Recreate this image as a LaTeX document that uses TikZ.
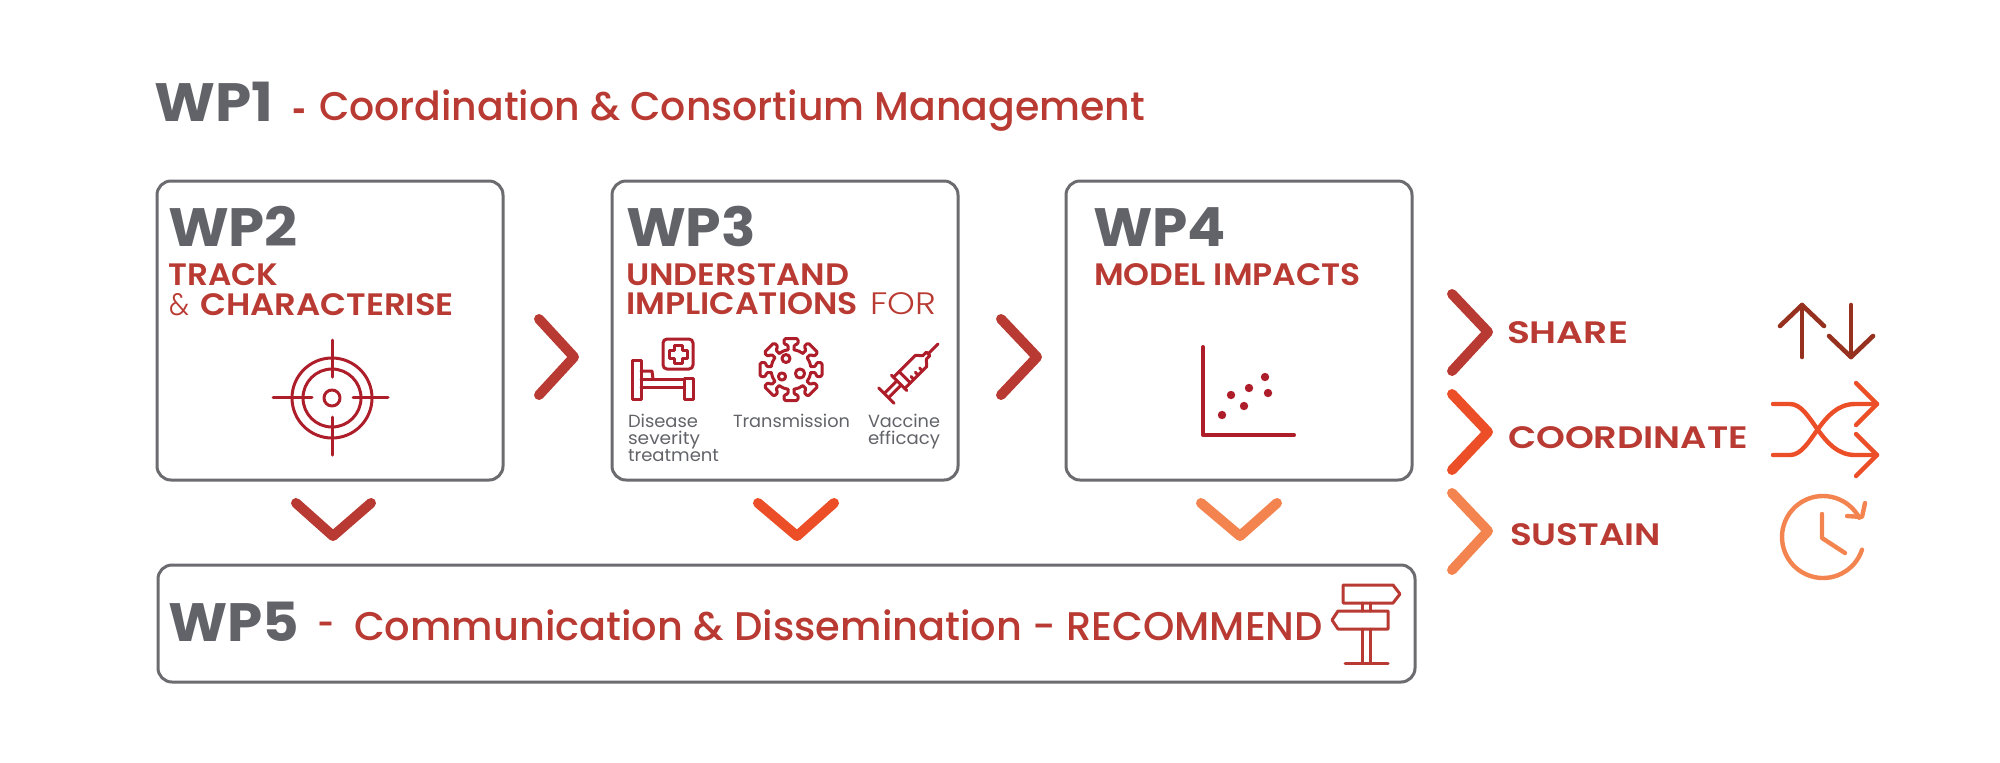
\documentclass[tikz,border=0pt]{standalone}
\usepackage{fontspec}
\usepackage{graphicx}
\setmainfont{Poppins}
\newfontfamily\popsemi{Poppins SemiBold}
\newfontfamily\popmed{Poppins Medium}
\newfontfamily\poplight{Poppins Light}
\definecolor{greyt}{HTML}{626369}
\definecolor{boxg}{HTML}{6B6B70}
\definecolor{redt}{HTML}{B93A32}
\definecolor{iconr}{HTML}{AE1E2A}
\definecolor{orange1}{HTML}{EC4E27}
\definecolor{orange2}{HTML}{F3844F}
\definecolor{brownr}{HTML}{96301F}
\tikzset{
  wpbox/.style={draw=boxg,line width=1.5pt,rounded corners=7pt,inner sep=0pt,outer sep=0pt},
  lab/.style={anchor=base west,inner sep=0pt,outer sep=0pt},
  chev/.style={line width=5pt,line cap=round,line join=round},
  ico/.style={line width=1.5pt,line cap=round,line join=round},
}
% \fw{width px}{text}: set text to an exact width in px, keeping its height
\newcommand{\fw}[2]{\resizebox{\dimexpr#1pt/2\relax}{\height}{#2}}
\newcommand{\wph}[1]{\fontsize{27}{27}\selectfont\bfseries\color{greyt}#1}
\newcommand{\subt}[1]{\fontsize{15.5}{15.5}\popsemi\color{redt}#1}
\newcommand{\subl}[1]{\fontsize{15.5}{15.5}\poplight\color{redt}#1}
\newcommand{\bigt}[1]{\fontsize{20}{20}\popmed\color{redt}#1}
\newcommand{\dasht}[1]{\fontsize{20}{20}\popsemi\color{redt}#1}
\newcommand{\smt}[1]{\fontsize{8.8}{8.8}\selectfont\color{greyt}#1}
\begin{document}
\begin{tikzpicture}[x=0.5pt,y=-0.5pt]
\useasboundingbox (0,0) rectangle (2000,762);
% title
\node[lab] (wp1) at (154,121) {\fw{119}{\wph{WP1}}};
\node[lab] (d1) at (292,125) {\fw{14}{\dasht{-}}};
\node[lab] (t1) at (319,120) {\fw{826}{\bigt{Coordination \& Consortium Management}}};
% boxes
\node[wpbox,minimum width=173pt,minimum height=149.5pt] (wp2box) at (330,330.5) {};
\node[wpbox,minimum width=173pt,minimum height=149.5pt] (wp3box) at (785,330.5) {};
\node[wpbox,minimum width=173pt,minimum height=149.5pt] (wp4box) at (1239,330.5) {};
\node[wpbox,minimum width=628.5pt,minimum height=58.5pt] (wp5box) at (786.5,623.5) {};
% WP2
\node[lab] (wp2) at (168,246) {\fw{130}{\wph{WP2}}};
\node[lab] (wp2a) at (168.5,285) {\fw{110}{\subt{TRACK}}};
\node[lab] (wp2b) at (169,315) {\fw{20}{\subl{\&}}};
\node[lab] (wp2c) at (200,315) {\fw{254}{\subt{CHARACTERISE}}};
\begin{scope}[iconr,ico]
\draw (332,398) circle (40);
\draw (332,398) circle (29);
\draw (332,398) circle (8);
\draw (332,340) -- (332,377);
\draw (332,417) -- (332,455);
\draw (273,397) -- (312,397);
\draw (353,397) -- (388,397);
\end{scope}
% WP3
\node[lab] (wp3) at (626,246) {\fw{130}{\wph{WP3}}};
\node[lab] (wp3a) at (626,285) {\fw{223}{\subt{UNDERSTAND}}};
\node[lab] (wp3b) at (626,314) {\fw{232}{\subt{IMPLICATIONS}}};
\node[lab] (wp3c) at (870,314) {\fw{66}{\subl{FOR}}};
\begin{scope}[iconr,ico]
% bed
\draw (632,360) rectangle (641,399);
\draw (641,379) -- (684,379) (641,387) -- (684,387);
\draw (684,378) rectangle (693,399);
\draw (641,371) -- (652,371) -- (653,379);
\draw[rounded corners=2pt] (663,339) rectangle (693,369);
\draw (674,345) -- (682,345) -- (682,350) -- (687,350) -- (687,358) -- (682,358) -- (682,363) -- (674,363) -- (674,358) -- (669,358) -- (669,350) -- (674,350) -- cycle;
\end{scope}
% virus
\begin{scope}[iconr,ico,shift={(791,369.5)}]
\foreach \a in {0,45,...,315}{
  \begin{scope}[rotate=\a]
  \draw[rounded corners=0.8pt] (19.7,-3) -- (25,-3) -- (25,-7) -- (31,-7) -- (31,7) -- (25,7) -- (25,3) -- (19.7,3);
  \draw (8.7:20) arc[start angle=8.7,end angle=36.3,radius=20];
  \end{scope}
}
\draw (-5,-11) circle (4);
\draw (9,4) circle (4.6);
\draw (-9,7) circle (3.6);
\end{scope}
% syringe
\begin{scope}[iconr,ico,shift={(938,344)},rotate=-135]
\draw (0,0) -- (14,0);
\draw (14,-2.5) -- (19,-2.5) -- (24,-8) (14,2.5) -- (19,2.5) -- (24,8) (14,-2.5) -- (14,2.5);
\draw (24,-8) -- (55,-8) (24,8) -- (55,8);
\draw (47,-8) -- (47,8);
\draw (55,-11) -- (55,11);
\draw (55,-3) -- (72,-3) (55,3) -- (72,3);
\draw (73,-11) -- (73,11);
\draw (30,-8) -- (30,-4) (36,-8) -- (36,-4) (42,-8) -- (42,-4);
\end{scope}
\node[lab] (s1) at (628,427) {\fw{70}{\smt{Disease}}};
\node[lab] (s2) at (628,444) {\fw{72}{\smt{severity}}};
\node[lab] (s3) at (628,461) {\fw{91}{\smt{treatment}}};
\node[lab] (s4) at (733,427) {\fw{117}{\smt{Transmission}}};
\node[lab] (s5) at (868,427) {\fw{72}{\smt{Vaccine}}};
\node[lab] (s6) at (868,444) {\fw{72}{\smt{efficacy}}};
% WP4
\node[lab] (wp4) at (1093,246) {\fw{133}{\wph{WP4}}};
\node[lab] (wp4a) at (1094,285) {\fw{267}{\subt{MODEL IMPACTS}}};
\draw[iconr,line width=2pt,line cap=round,line join=round] (1203,347) -- (1203,435) -- (1294,435);
\foreach \p in {(1222,415),(1231,395),(1244,406),(1249,388),(1265,377),(1268,393)}
  \fill[iconr] \p circle (4.2);
% WP5
\node[lab] (wp5) at (168,641) {\fw{131}{\wph{WP5}}};
\node[lab] (d5) at (317,638) {\fw{17}{\bigt{-}}};
\node[lab] (t5) at (354,640) {\fw{969}{\bigt{Communication \& Dissemination - RECOMMEND}}};
\begin{scope}[redt,ico]
\draw (1343,585) -- (1393,585) -- (1400,594) -- (1393,603) -- (1343,603) -- cycle;
\draw (1388,611) -- (1338,611) -- (1332,620) -- (1338,629) -- (1388,629) -- cycle;
\draw (1362,603) -- (1362,611) (1370,603) -- (1370,611);
\draw (1362,629) -- (1362,663) (1370,629) -- (1370,663);
\draw (1345,663) -- (1388,663);
\end{scope}
% chevrons
\draw[chev,redt] (539,319) -- (574,357) -- (539,395);
\draw[chev,redt] (1001,319) -- (1037,357) -- (1001,395);
\draw[chev,redt] (296,503) -- (333,536) -- (371,503);
\draw[chev,orange1] (758,503) -- (797,536) -- (834,503);
\draw[chev,orange2] (1201,503) -- (1240,536) -- (1277,503);
\draw[chev,redt] (1452,294) -- (1488,332) -- (1452,371);
\draw[chev,orange1] (1452,394) -- (1488,432) -- (1452,470);
\draw[chev,orange2] (1452,493) -- (1488,531) -- (1452,570);
% right labels
\node[lab] (share) at (1507,343) {\fw{121}{\subt{SHARE}}};
\node[lab] (coord) at (1508,448) {\fw{240}{\subt{COORDINATE}}};
\node[lab] (sust) at (1510,545) {\fw{151}{\subt{SUSTAIN}}};
% share icon
\begin{scope}[brownr,ico,line width=2.3pt]
\draw (1802,357) -- (1802,305);
\draw (1780,326) -- (1802,305) -- (1824,326);
\draw (1851,305) -- (1851,357);
\draw (1829,336) -- (1851,357) -- (1873,336);
\end{scope}
% shuffle icon
\begin{scope}[orange1,ico,line width=2.2pt]
\draw (1773,404) -- (1790,404) .. controls (1812,404) and (1820,455) .. (1855,455) -- (1877,455);
\draw (1773,455) -- (1790,455) .. controls (1812,455) and (1820,404) .. (1855,404) -- (1877,404);
\draw (1856,383) -- (1877,404) -- (1856,425);
\draw (1856,434) -- (1877,455) -- (1856,476);
\end{scope}
% clock icon
\begin{scope}[orange2,ico,line width=2.2pt]
\draw (1823,537) ++(18:41) arc[start angle=18,end angle=332,radius=41];
\draw (1822,514) -- (1822,538) -- (1845,553);
\draw (1865,503) -- (1862,517) -- (1847,516);
\end{scope}
\end{tikzpicture}
\end{document}
